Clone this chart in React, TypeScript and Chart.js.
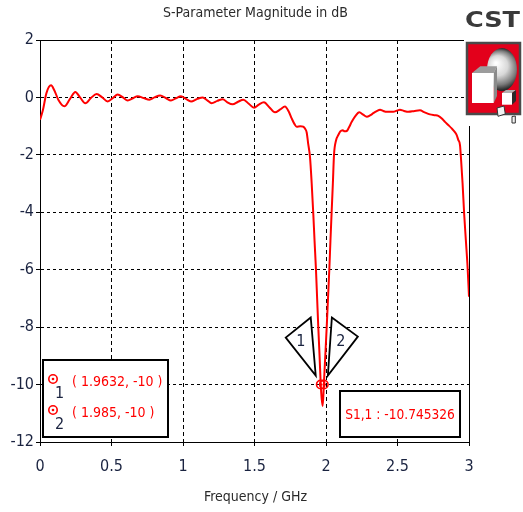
import { useEffect, useRef } from "react";
import { Chart, registerables } from "chart.js";

Chart.register(...registerables);

// ---------- data ----------
const freqGHz = [
  0.0, 0.02, 0.045, 0.077, 0.1, 0.13, 0.17, 0.21, 0.247, 0.28, 0.317, 0.356, 0.396, 0.435, 0.473,
  0.51, 0.543, 0.58, 0.613, 0.65, 0.683, 0.725, 0.765, 0.8, 0.84, 0.88, 0.916, 0.95, 0.986, 1.02,
  1.056, 1.1, 1.138, 1.17, 1.2, 1.24, 1.278, 1.31, 1.347, 1.385, 1.422, 1.46, 1.497, 1.53, 1.566,
  1.605, 1.643, 1.68, 1.713, 1.74, 1.76, 1.78, 1.795, 1.82, 1.84, 1.855, 1.865, 1.875, 1.888, 1.9,
  1.911, 1.92, 1.93, 1.938, 1.946, 1.955, 1.9632, 1.97, 1.977, 1.985, 1.995, 2.005, 2.014, 2.023,
  2.031, 2.039, 2.048, 2.056, 2.07, 2.086, 2.1, 2.117, 2.13, 2.145, 2.16, 2.18, 2.205, 2.233, 2.26,
  2.285, 2.31, 2.331, 2.355, 2.378, 2.4, 2.424, 2.45, 2.471, 2.495, 2.517, 2.545, 2.576, 2.62,
  2.657, 2.69, 2.727, 2.76, 2.785, 2.81, 2.832, 2.855, 2.879, 2.9, 2.914, 2.925, 2.937, 2.945,
  2.955, 2.966, 2.978, 2.99, 3.0,
];
const s11dB = [
  -0.78, -0.45, 0.15, 0.42, 0.25, -0.1, -0.31, -0.05, 0.19, 0.0, -0.2, -0.02, 0.12, 0.0, -0.14,
  -0.02, 0.1, 0.0, -0.11, -0.03, 0.04, -0.02, -0.08, 0.0, 0.07, -0.02, -0.11, -0.03, 0.04, -0.05,
  -0.14, -0.05, 0.0, -0.1, -0.2, -0.12, -0.06, -0.17, -0.24, -0.15, -0.08, -0.22, -0.36, -0.25, -0.17,
  -0.35, -0.52, -0.42, -0.32, -0.5, -0.73, -0.93, -1.02, -1.0, -1.02, -1.1, -1.22, -1.6, -2.07, -3.0,
  -4.04, -5.0, -6.01, -7.0, -7.99, -9.0, -10.0, -10.5, -10.745, -10.0, -9.0, -7.99, -7.0, -6.01,
  -5.0, -4.04, -3.0, -2.0, -1.5, -1.31, -1.18, -1.14, -1.18, -1.17, -1.05, -0.85, -0.65, -0.52, -0.6,
  -0.67, -0.62, -0.55, -0.48, -0.43, -0.47, -0.5, -0.5, -0.5, -0.46, -0.43, -0.47, -0.5, -0.47,
  -0.45, -0.52, -0.59, -0.62, -0.64, -0.73, -0.85, -0.96, -1.08, -1.2, -1.31, -1.48, -1.66, -2.2,
  -2.99, -4.04, -4.97, -5.9, -6.94,
];
const markerFreq = [1.9632, 1.985];
const markerValue = [-10, -10];
const markerNames = ["1", "2"];
const markerTexts = ["( 1.9632, -10 )", "( 1.985, -10 )"];
const minText = "S1,1 : -10.745326";
const xTickValues = [0, 0.5, 1, 1.5, 2, 2.5, 3];
const xTickLabels = ["0", "0.5", "1", "1.5", "2", "2.5", "3"];
const yTickValues = [2, 0, -2, -4, -6, -8, -10, -12];
const yTickLabels = ["2", "0", "-2", "-4", "-6", "-8", "-10", "-12"];
const titleText = "S-Parameter Magnitude in dB";
const xTitleText = "Frequency / GHz";
const logoText = "CST";

const FONT = "'DejaVu Sans Condensed', 'Liberation Sans Narrow', 'DejaVu Sans', sans-serif";
const TICK_COLOR = "#1a2340";
const RED = "#ff0000";

function drawMarkerSymbol(ctx: CanvasRenderingContext2D, x: number, y: number) {
  ctx.save();
  ctx.strokeStyle = RED;
  ctx.fillStyle = RED;
  ctx.lineWidth = 1.6;
  ctx.beginPath();
  ctx.arc(x, y, 4.2, 0, Math.PI * 2);
  ctx.stroke();
  ctx.beginPath();
  ctx.arc(x, y, 1.3, 0, Math.PI * 2);
  ctx.fill();
  ctx.restore();
}

function poly(ctx: CanvasRenderingContext2D, pts: number[][], fill: string, stroke?: string) {
  ctx.beginPath();
  pts.forEach((p, i) => (i === 0 ? ctx.moveTo(p[0], p[1]) : ctx.lineTo(p[0], p[1])));
  ctx.closePath();
  ctx.fillStyle = fill;
  ctx.fill();
  if (stroke) {
    ctx.strokeStyle = stroke;
    ctx.lineWidth = 1;
    ctx.stroke();
  }
}

const decorPlugin = {
  id: "decor",
  afterDraw(chart: any) {
    const ctx: CanvasRenderingContext2D = chart.ctx;
    const { left, right, top, bottom } = chart.chartArea;
    const xs = chart.scales.x;
    const ys = chart.scales.y;
    const W = chart.width;
    const H = chart.height;
    ctx.save();

    // frame (top & right)
    ctx.strokeStyle = "#000";
    ctx.lineWidth = 1;
    ctx.beginPath();
    ctx.moveTo(left, top + 0.5);
    ctx.lineTo(right, top + 0.5);
    ctx.moveTo(right + 0.5, top);
    ctx.lineTo(right + 0.5, bottom);
    ctx.stroke();

    // titles
    ctx.fillStyle = "#2a2a2a";
    ctx.textAlign = "center";
    ctx.textBaseline = "middle";
    ctx.font = `14px ${FONT}`;
    ctx.fillText(titleText, (left + right) / 2 + 1, 13);
    ctx.fillText(xTitleText, (left + right) / 2 + 1, H - 15);

    // marker triangles & symbols
    const mp = markerFreq.map((f, i) => ({
      x: xs.getPixelForValue(f),
      y: ys.getPixelForValue(markerValue[i]),
    }));
    ctx.strokeStyle = "#000";
    ctx.lineWidth = 1.8;
    ctx.fillStyle = "#fff";
    ctx.beginPath();
    ctx.moveTo(mp[0].x - 10, mp[0].y - 67);
    ctx.lineTo(mp[0].x - 35, mp[0].y - 47);
    ctx.lineTo(mp[0].x - 5, mp[0].y - 9);
    ctx.closePath();
    ctx.fill();
    ctx.stroke();
    ctx.beginPath();
    ctx.moveTo(mp[1].x + 8, mp[1].y - 67);
    ctx.lineTo(mp[1].x + 34, mp[1].y - 48);
    ctx.lineTo(mp[1].x + 4, mp[1].y - 9);
    ctx.closePath();
    ctx.fill();
    ctx.stroke();
    ctx.fillStyle = TICK_COLOR;
    ctx.font = `16px ${FONT}`;
    ctx.fillText(markerNames[0], mp[0].x - 20, mp[0].y - 43);
    ctx.fillText(markerNames[1], mp[1].x + 17, mp[1].y - 43);
    mp.forEach((p) => drawMarkerSymbol(ctx, p.x, p.y));

    // marker legend box
    const bx = left + 3;
    const by = bottom - 82;
    const bw = 125;
    const bh = 77;
    ctx.fillStyle = "#fff";
    ctx.fillRect(bx, by, bw, bh);
    ctx.lineWidth = 2;
    ctx.strokeStyle = "#000";
    ctx.strokeRect(bx, by, bw, bh);
    markerTexts.forEach((t, i) => {
      const ry = by + 21 + i * 31;
      drawMarkerSymbol(ctx, bx + 10, ry - 2);
      ctx.fillStyle = TICK_COLOR;
      ctx.textAlign = "left";
      ctx.font = `16px ${FONT}`;
      ctx.fillText(markerNames[i], bx + 12, ry + 13);
      ctx.fillStyle = RED;
      ctx.font = `14px ${FONT}`;
      ctx.fillText(t, bx + 29, ry + 1);
    });

    // min value box
    const rw = 120;
    const rh = 46;
    const rx = right - 9 - rw;
    const ry2 = bottom - 5 - rh;
    ctx.fillStyle = "#fff";
    ctx.fillRect(rx, ry2, rw, rh);
    ctx.strokeRect(rx, ry2, rw, rh);
    ctx.fillStyle = RED;
    ctx.textAlign = "center";
    ctx.font = `13.6px ${FONT}`;
    ctx.fillText(minText, rx + rw / 2, ry2 + rh / 2 + 1);

    // logo: white cover over the corner
    ctx.fillStyle = "#fff";
    ctx.fillRect(W - 59, 0, 59, 126);
    ctx.fillStyle = "#3a3a3a";
    ctx.font = "bold 21px 'DejaVu Sans', sans-serif";
    ctx.textAlign = "left";
    ctx.textBaseline = "alphabetic";
    const tw = ctx.measureText(logoText).width;
    ctx.save();
    ctx.translate(W - 58, 27);
    ctx.scale(55 / tw, 1);
    ctx.fillText(logoText, 0, 0);
    ctx.restore();
    // red box
    const lx = W - 56;
    const ly = 43;
    const lw = 53;
    const lh = 71;
    ctx.fillStyle = "#e3001b";
    ctx.fillRect(lx, ly, lw, lh);
    ctx.lineWidth = 2.5;
    ctx.strokeStyle = "#4a4a4a";
    ctx.strokeRect(lx, ly, lw, lh);
    // sphere
    const g = ctx.createRadialGradient(lx + 29, ly + 20, 1, lx + 33, ly + 26, 21);
    g.addColorStop(0, "#ffffff");
    g.addColorStop(0.45, "#d8d8d8");
    g.addColorStop(0.8, "#7a7a7a");
    g.addColorStop(1, "#2a2a2a");
    ctx.fillStyle = g;
    ctx.beginPath();
    ctx.ellipse(lx + 35, ly + 26.6, 15, 21.6, 0, 0, Math.PI * 2);
    ctx.fill();
    // big cube
    poly(ctx, [[lx + 5, ly + 30], [lx + 13.3, ly + 23.3], [lx + 30, ly + 23.3], [lx + 26.7, ly + 30]], "#9c9c9c");
    poly(ctx, [[lx + 26.7, ly + 30], [lx + 30, ly + 23.3], [lx + 30, ly + 53], [lx + 26.7, ly + 60]], "#8a8a8a");
    ctx.fillStyle = "#ffffff";
    ctx.fillRect(lx + 5, ly + 30, 21.7, 30);
    // small cube
    poly(ctx, [[lx + 35, ly + 50], [lx + 39, ly + 47], [lx + 49, ly + 47], [lx + 45, ly + 50]], "#b0b0b0");
    poly(ctx, [[lx + 45, ly + 50], [lx + 49, ly + 47], [lx + 49, ly + 58], [lx + 45, ly + 61.7]], "#2a2a2a");
    ctx.fillStyle = "#ffffff";
    ctx.fillRect(lx + 35, ly + 50, 10, 11.7);
    // tiny cubes below
    poly(ctx, [[lx + 30, ly + 65], [lx + 37, ly + 63], [lx + 38.3, ly + 71], [lx + 31, ly + 73.3]], "#f2f2f2", "#333");
    poly(ctx, [[lx + 45, ly + 73.5], [lx + 48.3, ly + 73], [lx + 48.3, ly + 80], [lx + 45, ly + 80]], "#f2f2f2", "#333");

    ctx.restore();
  },
};

export default function App() {
  const ref = useRef<HTMLCanvasElement | null>(null);
  useEffect(() => {
    document.body.style.margin = "0";
    const canvas = ref.current;
    if (!canvas) return;
    const chart = new Chart(canvas, {
      type: "line",
      data: {
        datasets: [
          {
            label: "S1,1",
            data: freqGHz.map((f, i) => ({ x: f, y: s11dB[i] })),
            borderColor: RED,
            borderWidth: 2,
            pointRadius: 0,
            fill: false,
            cubicInterpolationMode: "monotone",
          },
        ],
      },
      options: {
        responsive: false,
        maintainAspectRatio: false,
        devicePixelRatio: 1,
        animation: false,
        layout: { padding: { top: 40, right: 54, left: 0, bottom: 0 } },
        plugins: {
          legend: { display: false },
          tooltip: { enabled: false },
          title: { display: false },
        },
        scales: {
          x: {
            type: "linear",
            min: 0,
            max: 3,
            afterFit: (s: any) => {
              s.height = 70;
            },
            afterBuildTicks: (s: any) => {
              s.ticks = xTickValues.map((v) => ({ value: v }));
            },
            ticks: {
              callback: (v: any) => xTickLabels[xTickValues.indexOf(Number(v))] ?? "",
              color: TICK_COLOR,
              font: { family: FONT, size: 16 },
              padding: 11,
              maxRotation: 0,
            },
            grid: {
              color: (c: any) =>
                c.tick && (c.tick.value === 0 || c.tick.value === 3) ? "rgba(0,0,0,0)" : "#000",
              lineWidth: 1,
              tickLength: 4,
              tickColor: "#000",
            },
            border: { display: true, color: "#000", width: 1, dash: [4, 3] },
          },
          y: {
            type: "linear",
            min: -12,
            max: 2,
            afterFit: (s: any) => {
              s.width = 40;
            },
            afterBuildTicks: (s: any) => {
              s.ticks = yTickValues.map((v) => ({ value: v }));
            },
            ticks: {
              callback: (v: any) => yTickLabels[yTickValues.indexOf(Number(v))] ?? "",
              color: TICK_COLOR,
              font: { family: FONT, size: 16 },
              padding: 2,
            },
            grid: {
              color: (c: any) =>
                c.tick && (c.tick.value === 2 || c.tick.value === -12) ? "rgba(0,0,0,0)" : "#000",
              lineWidth: 1,
              tickLength: 4,
              tickColor: "#000",
            },
            border: { display: true, color: "#000", width: 1, dash: [3, 3] },
          },
        },
      },
      plugins: [decorPlugin],
    });
    return () => chart.destroy();
  }, []);
  return (
    <div style={{ position: "fixed", left: 0, top: 0, width: 523, height: 512, background: "#fff" }}>
      <canvas ref={ref} width={523} height={512} style={{ display: "block", width: 523, height: 512 }} />
    </div>
  );
}
